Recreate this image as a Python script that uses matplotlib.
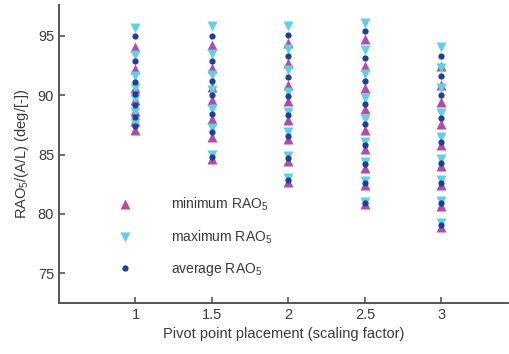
import matplotlib
matplotlib.use("Agg")
import matplotlib.pyplot as plt
from matplotlib.lines import Line2D

plt.rcParams['font.family'] = ['Liberation Sans', 'DejaVu Sans']
plt.rcParams['mathtext.fontset'] = 'custom'
plt.rcParams['mathtext.rm'] = 'Liberation Sans'
plt.rcParams['mathtext.it'] = 'Liberation Sans:italic'

# pivot point placements (scaling factor)
pivots = [1, 1.5, 2, 2.5, 3]

# per pivot: values of each case
max_rao = [
    [95.7, 93.4, 91.6, 90.6, 89.7, 88.6, 87.7],
    [95.8, 93.5, 91.7, 90.4, 88.8, 87.2, 85.0],
    [95.8, 93.9, 92.1, 90.3, 88.6, 86.9, 84.9, 83.0],
    [96.1, 93.8, 91.8, 89.8, 88.0, 86.1, 84.4, 82.8, 81.0],
    [94.1, 92.3, 90.6, 88.5, 86.5, 84.6, 82.9, 81.1, 79.2],
]
avg_rao = [
    [95.0, 92.9, 91.1, 90.1, 89.2, 88.2, 87.4],
    [95.0, 92.9, 91.2, 90.0, 88.4, 86.9, 84.8],
    [95.1, 93.3, 91.5, 89.9, 88.3, 86.6, 84.7, 82.9],
    [95.4, 93.1, 91.2, 89.3, 87.6, 85.8, 84.2, 82.6, 80.9],
    [93.3, 91.6, 90.0, 88.1, 86.1, 84.3, 82.6, 80.9, 79.1],
]
min_rao = [
    [94.1, 92.2, 90.6, 89.6, 88.7, 87.8, 87.1],
    [94.2, 92.3, 90.7, 89.6, 88.0, 86.5, 84.6],
    [94.4, 92.7, 90.9, 89.5, 87.9, 86.3, 84.5, 82.7],
    [94.7, 92.5, 90.6, 88.8, 87.1, 85.5, 83.9, 82.4, 80.8],
    [92.5, 90.9, 89.4, 87.6, 85.8, 84.0, 82.4, 80.7, 78.9],
]

c_min = '#b34bab'
c_max = '#5fd0e6'
c_avg = '#1f3f9f'

fig = plt.figure(figsize=(5.1, 3.54), dpi=100)
ax = fig.add_axes([59/510, 51/354, (508-59)/510, (303-5)/354])

for p, mx, av, mn in zip(pivots, max_rao, avg_rao, min_rao):
    ax.plot([p]*len(mn), mn, linestyle='none', marker='^', ms=7.5,
            color=c_min, mec='none', zorder=3)
    ax.plot([p]*len(mx), mx, linestyle='none', marker='v', ms=7.5,
            color=c_max, mec='none', zorder=3)
    ax.plot([p]*len(av), av, linestyle='none', marker='o', ms=4.5,
            color=c_avg, mec='none', zorder=4)

ax.set_xlim(0.5, 3.435)
ax.set_ylim(72.5, 97.6)
ax.set_xticks([1, 1.5, 2, 2.5, 3])
ax.set_xticklabels(['1', '1.5', '2', '2.5', '3'])
ax.set_yticks([75, 80, 85, 90, 95])

for s in ['top', 'right']:
    ax.spines[s].set_visible(False)
for s in ['left', 'bottom']:
    ax.spines[s].set_color('#555555')
    ax.spines[s].set_linewidth(1.4)
ax.tick_params(direction='in', length=4, width=1.2, colors='#555555',
               labelcolor='#3a3a3a', labelsize=10.5)

ax.set_xlabel('Pivot point placement (scaling factor)', fontsize=10.5,
              color='#3a3a3a', labelpad=4)
ax.set_ylabel('RAO$_5$/(A/L) (deg/[-])', fontsize=10.5, color='#3a3a3a',
              labelpad=5)

handles = [
    Line2D([], [], linestyle='none', marker='^', ms=7.5, color=c_min, mec='none'),
    Line2D([], [], linestyle='none', marker='v', ms=7.5, color=c_max, mec='none'),
    Line2D([], [], linestyle='none', marker='o', ms=4.5, color=c_avg, mec='none'),
]
labels = ['minimum RAO$_5$', 'maximum RAO$_5$', 'average RAO$_5$']
leg = ax.legend(handles, labels, loc='upper left', frameon=False,
                bbox_to_anchor=(118/510, 1 - 196/354), bbox_transform=fig.transFigure,
                fontsize=10, handlelength=1.0, handletextpad=2.8,
                labelspacing=1.1, borderaxespad=0, borderpad=0)
for t in leg.get_texts():
    t.set_color('#3a3a3a')

fig.savefig('out.png', dpi=100)
